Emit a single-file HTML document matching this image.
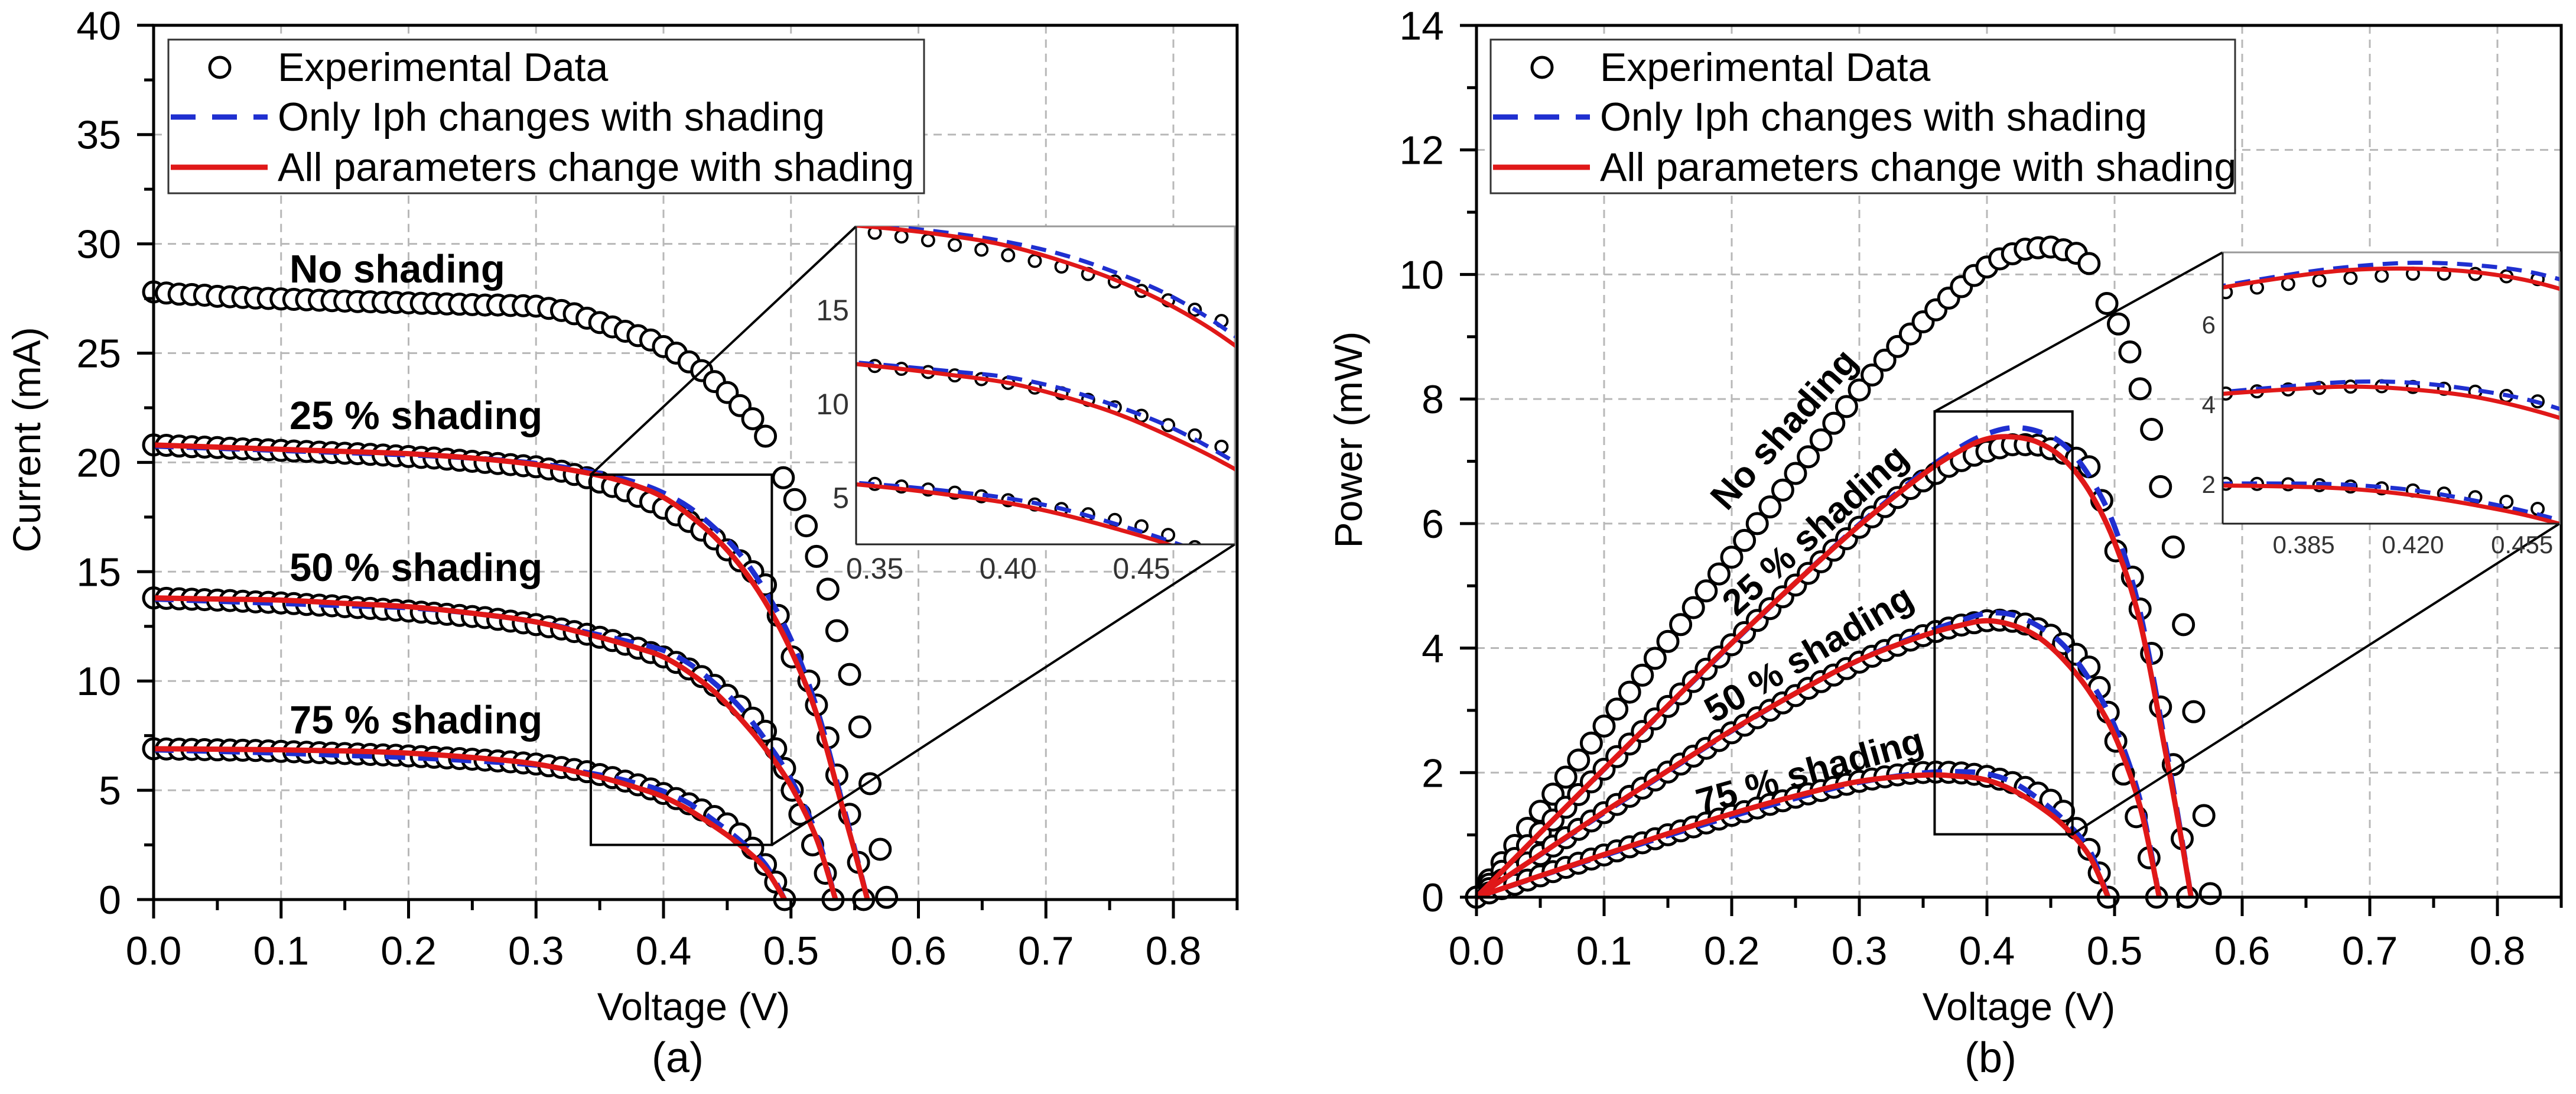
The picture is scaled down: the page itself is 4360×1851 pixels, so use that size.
<!DOCTYPE html>
<html><head><meta charset="utf-8"><style>
html,body{margin:0;padding:0;background:#fff;}
svg{display:block;font-family:"Liberation Sans",Arial,sans-serif;}
</style></head><body>
<svg id="fig" width="4360" height="1851" viewBox="0 0 4360 1851" xmlns="http://www.w3.org/2000/svg"></svg>
<script>
// ---------- data ----------
const baseV=[0,0.01,0.02,0.03,0.04,0.05,0.06,0.07,0.08,0.09,0.10,0.11,0.12,0.13,0.14,0.15,0.16,0.17,0.18,0.19,0.20,0.21,0.22,0.23,0.24,0.25,0.26,0.27,0.28,0.29,0.30,0.31,0.32,0.33,0.34,0.35,0.36,0.37,0.38,0.39,0.40,0.41,0.42,0.43,0.44,0.45,0.46,0.47,0.48];
const tailV0=[0.494,0.503,0.512,0.52,0.529,0.536,0.546,0.554,0.562,0.57,0.575];
const tailV25=[0.49,0.501,0.514,0.52,0.529,0.536,0.546,0.553,0.557];
const tailV50=[0.488,0.495,0.501,0.507,0.517,0.527,0.533];
const tailV75=[0.488,0.495];
const expI0=[27.8,27.75,27.7,27.68,27.65,27.6,27.58,27.55,27.52,27.5,27.48,27.46,27.44,27.42,27.4,27.38,27.36,27.35,27.33,27.32,27.3,27.28,27.27,27.25,27.24,27.22,27.2,27.2,27.18,27.17,27.15,27.05,26.95,26.8,26.6,26.4,26.2,26.0,25.8,25.6,25.3,25.0,24.6,24.2,23.7,23.2,22.6,22.0,21.2,19.3,18.3,17.1,15.7,14.2,12.3,10.3,7.9,5.3,2.3,0.1];
const expI25=[20.8,20.78,20.75,20.72,20.7,20.68,20.65,20.62,20.6,20.58,20.55,20.52,20.5,20.47,20.45,20.42,20.4,20.37,20.34,20.3,20.27,20.23,20.2,20.15,20.1,20.05,20.0,19.95,19.9,19.85,19.8,19.7,19.6,19.45,19.3,19.1,18.9,18.7,18.45,18.2,17.9,17.6,17.3,16.9,16.5,16.0,15.5,15.0,14.4,13.0,11.1,10.0,8.9,7.4,5.7,3.9,1.7,0];
const expI50=[13.8,13.78,13.76,13.74,13.72,13.7,13.68,13.65,13.62,13.6,13.57,13.54,13.5,13.47,13.44,13.4,13.36,13.32,13.28,13.24,13.2,13.15,13.1,13.05,13.0,12.95,12.9,12.82,12.74,12.66,12.58,12.48,12.38,12.26,12.14,12.0,11.85,11.68,11.5,11.3,11.1,10.85,10.55,10.2,9.8,9.35,8.85,8.3,7.7,6.9,6.0,5.0,3.9,2.5,1.2,0];
const expI75=[6.9,6.89,6.88,6.87,6.86,6.85,6.84,6.83,6.82,6.8,6.78,6.76,6.74,6.72,6.7,6.68,6.66,6.64,6.62,6.6,6.57,6.54,6.51,6.48,6.45,6.42,6.38,6.34,6.3,6.25,6.2,6.12,6.04,5.95,5.85,5.72,5.58,5.42,5.25,5.06,4.85,4.62,4.38,4.1,3.8,3.46,3.0,2.35,1.6,0.8,0];
const fitV25=[0,0.05,0.1,0.15,0.2,0.25,0.3,0.35,0.38,0.4,0.42,0.44,0.46,0.48,0.5,0.52,0.54,0.55,0.56];
const red25I=[20.8,20.7,20.6,20.5,20.4,20.2,19.9,19.4,18.9,18.4,17.6,16.6,15.3,13.6,11.4,8.5,4.3,2.2,0];
const blue25I=[20.75,20.65,20.55,20.45,20.35,20.2,19.95,19.5,19.05,18.6,17.95,17.0,15.8,14.1,11.9,8.8,4.5,2.3,0];
const fitV50=[0,0.05,0.1,0.15,0.2,0.25,0.3,0.35,0.38,0.4,0.42,0.44,0.46,0.48,0.5,0.52,0.535];
const red50I=[13.8,13.75,13.7,13.55,13.4,13.1,12.7,12.0,11.5,11.1,10.4,9.5,8.3,6.9,5.2,2.8,0];
const blue50I=[13.75,13.65,13.55,13.45,13.35,13.1,12.7,12.1,11.7,11.4,10.8,9.9,8.8,7.3,5.5,3.0,0];
const fitV75=[0,0.05,0.1,0.15,0.2,0.25,0.3,0.35,0.38,0.4,0.42,0.44,0.46,0.48,0.495];
const red75I=[6.9,6.88,6.85,6.8,6.7,6.5,6.2,5.6,5.1,4.7,4.1,3.35,2.5,1.4,0];
const blue75I=[6.85,6.78,6.7,6.6,6.5,6.35,6.15,5.7,5.3,4.95,4.4,3.6,2.7,1.6,0];
const xTicks=[0,0.1,0.2,0.3,0.4,0.5,0.6,0.7,0.8];
const xTickLabels=["0.0","0.1","0.2","0.3","0.4","0.5","0.6","0.7","0.8"];
const yTicksA=[0,5,10,15,20,25,30,35,40];
const yTicksB=[0,2,4,6,8,10,12,14];
const insetAX=[0.35,0.40,0.45], insetAXLabels=["0.35","0.40","0.45"], insetAY=[5,10,15];
const insetBX=[0.385,0.420,0.455], insetBXLabels=["0.385","0.420","0.455"], insetBY=[2,4,6];

const NS="http://www.w3.org/2000/svg";
const svg=document.getElementById('fig');
function mk(tag,attrs,parent){const e=document.createElementNS(NS,tag);for(const k in attrs)e.setAttribute(k,attrs[k]);(parent||svg).appendChild(e);return e;}
function smooth(pts){if(pts.length<2)return'';let d='M'+pts[0][0]+','+pts[0][1];for(let i=0;i<pts.length-1;i++){const p0=pts[i-1]||pts[i],p1=pts[i],p2=pts[i+1],p3=pts[i+2]||p2;const c1x=p1[0]+(p2[0]-p0[0])/6,c1y=p1[1]+(p2[1]-p0[1])/6,c2x=p2[0]-(p3[0]-p1[0])/6,c2y=p2[1]-(p3[1]-p1[1])/6;d+=' C'+c1x+','+c1y+' '+c2x+','+c2y+' '+p2[0]+','+p2[1];}return d;}
function toP(V,I){return V.map((v,i)=>v*I[i]);}

const expSets=[
 {name:'no-shading',V:baseV.concat(tailV0),I:expI0},
 {name:'shading-25',V:baseV.concat(tailV25),I:expI25},
 {name:'shading-50',V:baseV.concat(tailV50),I:expI50},
 {name:'shading-75',V:baseV.concat(tailV75),I:expI75}];
const fitSets=[
 {name:'shading-25',V:fitV25,red:red25I,blue:blue25I},
 {name:'shading-50',V:fitV50,red:red50I,blue:blue50I},
 {name:'shading-75',V:fitV75,red:red75I,blue:blue75I}];

function drawPanel(P){
 const sx=v=>P.x0+v*P.kx, sy=y=>P.y0-y*P.ky;
 const g=mk('g',{});
 
 
 const xR=sx(0.85), yT=sy(P.ymax);
 const grid=mk('g',{stroke:'#b8b8b8','stroke-width':3,'stroke-dasharray':'14 10'},g);
 
 
 xTicks.forEach(v=>{if(v>0)mk('line',{x1:sx(v),x2:sx(v),y1:yT,y2:P.y0},grid);});
 P.yt.forEach(v=>{if(v>0&&v<P.ymax)mk('line',{x1:P.x0,x2:xR,y1:sy(v),y2:sy(v)},grid);});
 const isP=P.power;
 expSets.forEach(s=>{
  const vals=isP?toP(s.V,s.I):s.I;
  const eg=mk('g',{fill:'#fff',stroke:'#000','stroke-width':5},g);
  
  
  s.V.forEach((v,i)=>{const c=mk('circle',{cx:sx(v),cy:sy(vals[i]),r:17},eg);
   
   });
 });
 fitSets.forEach(s=>{
  const b=isP?toP(s.V,s.blue):s.blue, r=isP?toP(s.V,s.red):s.red;
  const bl=mk('path',{d:smooth(s.V.map((v,i)=>[sx(v),sy(b[i])])),fill:'none',stroke:'#1f2fd0','stroke-width':9,'stroke-dasharray':'34 22'},g);
  
  
  const rl=mk('path',{d:smooth(s.V.map((v,i)=>[sx(v),sy(r[i])])),fill:'none',stroke:'#e01818','stroke-width':9},g);
  
  
 });
 const ax=mk('g',{stroke:'#000','stroke-width':5,fill:'none'},g);
 
 
 mk('rect',{x:P.x0,y:yT,width:xR-P.x0,height:P.y0-yT},ax);
 xTicks.forEach(v=>mk('line',{x1:sx(v),x2:sx(v),y1:P.y0,y2:P.y0+32},ax));
 xTicks.forEach(v=>{const m=v+0.05;if(m<=0.86)mk('line',{x1:sx(m),x2:sx(m),y1:P.y0,y2:P.y0+18},ax);});
 P.yt.forEach(v=>mk('line',{x1:P.x0-28,x2:P.x0,y1:sy(v),y2:sy(v)},ax));
 P.yt.forEach(v=>{const m=v+P.ystep/2;if(m<P.ymax)mk('line',{x1:P.x0-16,x2:P.x0,y1:sy(m),y2:sy(m)},ax);});
 xTicks.forEach((v,i)=>{const t=mk('text',{x:sx(v),y:1632,'font-size':68,'text-anchor':'middle'},g);t.textContent=xTickLabels[i];
  
  });
 P.yt.forEach(v=>{const t=mk('text',{x:P.x0-55,y:sy(v)+24,'font-size':68,'text-anchor':'end'},g);t.textContent=String(v);
  
  });
 const xt=mk('text',{x:P.xtx,y:1726,'font-size':66,'text-anchor':'middle'},g);xt.textContent='Voltage (V)';
 
 
 const yt=mk('text',{x:0,y:0,'font-size':66,'text-anchor':'middle',transform:'translate('+P.ytx+',744) rotate(-90)'},g);yt.textContent=P.ytitle;
 
 
 const cap=mk('text',{x:P.capx,y:1814,'font-size':72,'text-anchor':'middle'},g);cap.textContent=P.cap;
 
 
 const bx1=sx(P.box[0]),bx2=sx(P.box[1]),by1=sy(P.box[3]),by2=sy(P.box[2]);
 const zb=mk('rect',{x:bx1,y:by1,width:bx2-bx1,height:by2-by1,fill:'none',stroke:'#000','stroke-width':4},g);
 
 
 const I=P.inset;
 const c1=mk('line',{x1:bx1,y1:by1,x2:I.x1,y2:I.y1,stroke:'#000','stroke-width':4},g);
 
 
 const c2=mk('line',{x1:bx2,y1:by2,x2:I.x2,y2:I.y2,stroke:'#000','stroke-width':4},g);
 
 
 const ig=mk('g',{},g);
 
 
 mk('rect',{x:I.x1,y:I.y1,width:I.x2-I.x1,height:I.y2-I.y1,fill:'#fff',stroke:'#999','stroke-width':3},ig);
 const cid='clip'+P.id;const cp=mk('clipPath',{id:cid},ig);mk('rect',{x:I.x1,y:I.y1,width:I.x2-I.x1,height:I.y2-I.y1},cp);
 const isx=v=>I.x1+(v-P.box[0])/(P.box[1]-P.box[0])*(I.x2-I.x1);
 const isy=y=>I.y2-(y-P.box[2])/(P.box[3]-P.box[2])*(I.y2-I.y1);
 const icg=mk('g',{'clip-path':'url(#'+cid+')'},ig);
 expSets.forEach(s=>{const vals=isP?toP(s.V,s.I):s.I;
  s.V.forEach((v,i)=>{const c=mk('circle',{cx:isx(v),cy:isy(vals[i]),r:10,fill:'#fff',stroke:'#000','stroke-width':4},icg);
   
   });});
 fitSets.forEach(s=>{const b=isP?toP(s.V,s.blue):s.blue, r=isP?toP(s.V,s.red):s.red;
  const bl=mk('path',{d:smooth(s.V.map((v,i)=>[isx(v),isy(b[i])])),fill:'none',stroke:'#1f2fd0','stroke-width':7,'stroke-dasharray':'26 16'},icg);
  
  
  const rl=mk('path',{d:smooth(s.V.map((v,i)=>[isx(v),isy(r[i])])),fill:'none',stroke:'#e01818','stroke-width':7},icg);
  
  });
 mk('line',{x1:I.x1,y1:I.y1,x2:I.x1,y2:I.y2,stroke:'#222','stroke-width':3},ig);
 mk('line',{x1:I.x1,y1:I.y2,x2:I.x2,y2:I.y2,stroke:'#222','stroke-width':3},ig);
 I.xt.forEach((v,i)=>{const t=mk('text',{x:isx(v),y:I.y2+I.fs+8,'font-size':I.fs,fill:'#333','text-anchor':'middle'},ig);t.textContent=I.xl[i];
  
  });
 I.yt.forEach(v=>{const t=mk('text',{x:I.x1-12,y:isy(v)+I.fs*0.36,'font-size':I.fs,fill:'#333','text-anchor':'end'},ig);t.textContent=String(v);
  
  });
 const L=P.legend;
 const lg=mk('g',{},g);
 
 
 mk('rect',{x:L.x,y:67,width:L.w,height:260,fill:'#fff',stroke:'#333','stroke-width':3},lg);
 const c=mk('circle',{cx:L.x+87,cy:114,r:17,fill:'#fff',stroke:'#000','stroke-width':5},lg);
 
 
 const l1=mk('line',{x1:L.x+4,x2:L.x+168,y1:198,y2:198,stroke:'#1f2fd0','stroke-width':9,'stroke-dasharray':'42 28'},lg);
 
 
 const l2=mk('line',{x1:L.x+4,x2:L.x+168,y1:283,y2:283,stroke:'#e01818','stroke-width':9},lg);
 
 
 const texts=['Experimental Data','Only Iph changes with shading','All parameters change with shading'];
 [137,221,306].forEach((y,i)=>{const t=mk('text',{x:L.x+185,y:y,'font-size':68},lg);t.textContent=texts[i];
  
  });
 P.labels.forEach(lb=>{const t=mk('text',{x:0,y:0,'font-size':lb.fs,'font-weight':'bold','text-anchor':lb.anchor,transform:'translate('+lb.x+','+lb.y+') rotate('+lb.rot+')'},g);t.textContent=lb.t;
  
  });
}

drawPanel({id:'panel-a',x0:260,kx:2157.5,y0:1522,ky:36.98,ymax:40,yt:yTicksA,ystep:5,power:false,
 xtx:1174,ytx:68,ytitle:'Current (mA)',capx:1147,cap:'(a)',
 box:[0.343,0.485,2.5,19.44],
 inset:{x1:1449,y1:383,x2:2090,y2:921,xt:insetAX,xl:insetAXLabels,yt:insetAY,fs:50},
 legend:{x:285,w:1279},
 labels:[{t:'No shading',x:490,y:478,rot:0,anchor:'start',fs:67},{t:'25 % shading',x:490,y:726,rot:0,anchor:'start',fs:67},
  {t:'50 % shading',x:490,y:983,rot:0,anchor:'start',fs:67},{t:'75 % shading',x:490,y:1241,rot:0,anchor:'start',fs:67}]});
drawPanel({id:'panel-b',x0:2499,kx:2160,y0:1518,ky:105.36,ymax:14,yt:yTicksB,ystep:2,power:true,
 xtx:3417,ytx:2305,ytitle:'Power (mW)',capx:3369,cap:'(b)',
 box:[0.359,0.467,1.01,7.8],
 inset:{x1:3762,y1:427,x2:4332,y2:886,xt:insetBX,xl:insetBXLabels,yt:insetBY,fs:42},
 legend:{x:2523,w:1260},
 labels:[{t:'No shading',x:3035,y:740,rot:-48.5,anchor:'middle',fs:62},{t:'25 % shading',x:3086,y:912,rot:-42,anchor:'middle',fs:62},
  {t:'50 % shading',x:3072,y:1124,rot:-30.5,anchor:'middle',fs:62},{t:'75 % shading',x:3069,y:1325,rot:-15.7,anchor:'middle',fs:62}]});
</script>
</body></html>
